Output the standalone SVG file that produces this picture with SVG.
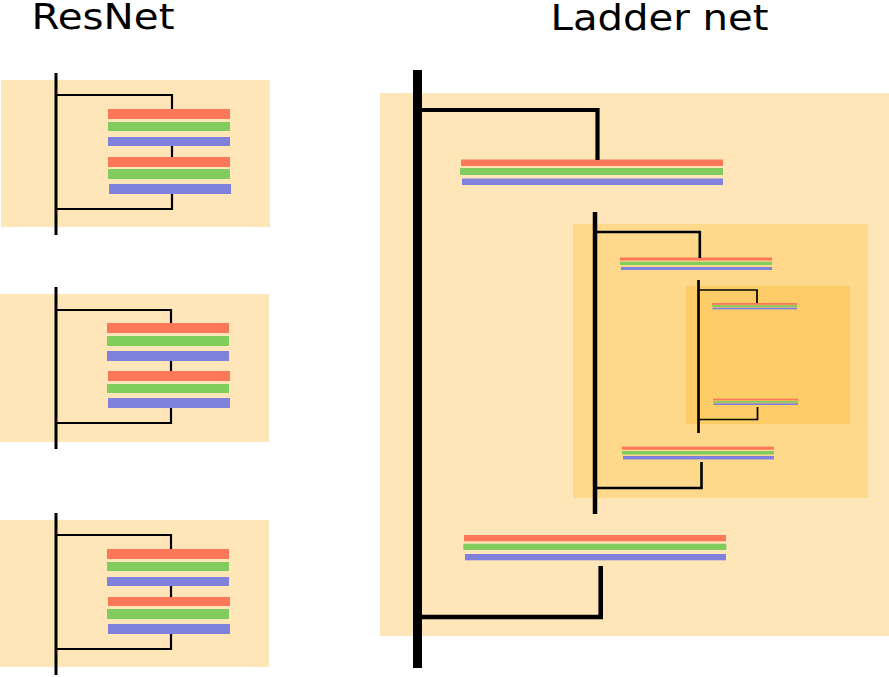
<svg xmlns="http://www.w3.org/2000/svg" width="889" height="677" viewBox="0 0 889 677">
<style>
.title{font-family:"DejaVu Sans",Verdana,sans-serif;font-size:35px;fill:#000}
.bg1{fill:#ffe6b9}
.bg2{fill:#fed88b}
.bg3{fill:#fecc66}
.r{fill:#ff7759}
.g{fill:#80cc5c}
.b{fill:#8080dd}
.ln{fill:none;stroke:#000;stroke-linecap:butt;stroke-linejoin:miter}
</style>
<rect width="889" height="677" fill="#fff"/>
<text class="title" x="31.5" y="28.5" textLength="143" lengthAdjust="spacingAndGlyphs">ResNet</text>
<text class="title" x="550.5" y="30" textLength="218" lengthAdjust="spacingAndGlyphs">Ladder net</text>

<g id="resnet1">
<rect class="bg1" x="1" y="80" width="269" height="147"/>
<rect class="r" x="108" y="109" width="122" height="10"/>
<rect class="g" x="108" y="122" width="122" height="9"/>
<rect class="b" x="108" y="137" width="122" height="9"/>
<rect class="r" x="108" y="157" width="122" height="10"/>
<rect class="g" x="108" y="169" width="122" height="10"/>
<rect class="b" x="109" y="184" width="122" height="10"/>
</g>
<g id="resnet2">
<rect class="bg1" x="0" y="294" width="269" height="148"/>
<rect class="r" x="107" y="323" width="122" height="10"/>
<rect class="g" x="107" y="336" width="122" height="10"/>
<rect class="b" x="107" y="351" width="122" height="10"/>
<rect class="r" x="108" y="371" width="122" height="10"/>
<rect class="g" x="107" y="384" width="122" height="9"/>
<rect class="b" x="108" y="398" width="122" height="10"/>
</g>
<g id="resnet3">
<rect class="bg1" x="0" y="520" width="269" height="147"/>
<rect class="r" x="107" y="549" width="122" height="10"/>
<rect class="g" x="107" y="562" width="122" height="9"/>
<rect class="b" x="107" y="577" width="122" height="9"/>
<rect class="r" x="108" y="597" width="122" height="9"/>
<rect class="g" x="107" y="609" width="122" height="10"/>
<rect class="b" x="108" y="624" width="122" height="10"/>
</g>

<g id="ladder">
<rect class="bg1" x="380" y="93" width="509" height="543"/>
<rect class="bg2" x="573" y="224" width="295" height="274"/>
<rect class="bg3" x="686" y="286" width="164" height="138"/>
<rect class="r" x="461" y="159.5" width="262" height="6.5"/>
<rect class="g" x="460" y="168" width="263" height="7"/>
<rect class="b" x="462" y="178.5" width="261" height="6.5"/>
<rect class="r" x="464" y="535" width="262" height="6.3"/>
<rect class="g" x="463.3" y="543.7" width="263" height="6.3"/>
<rect class="b" x="465" y="554" width="261" height="6.3"/>
<rect class="r" x="620" y="257.5" width="152" height="3"/>
<rect class="g" x="620" y="261.7" width="152" height="3.3"/>
<rect class="b" x="621" y="267" width="151" height="3"/>
<rect class="r" x="622" y="446.7" width="152" height="3"/>
<rect class="g" x="622" y="451" width="152" height="3.5"/>
<rect class="b" x="623" y="456" width="151" height="3.5"/>
<rect class="r" x="712" y="303" width="85" height="1.8"/>
<rect class="g" x="712" y="305.2" width="85" height="1.8"/>
<rect class="b" x="712.5" y="307.6" width="84.5" height="1.8"/>
<rect class="r" x="713" y="398.7" width="85" height="1.7"/>
<rect class="g" x="713" y="401" width="85" height="1.7"/>
<rect class="b" x="713.5" y="403.3" width="84.5" height="1.7"/>
</g>

<g id="connectors">
<path class="ln" stroke-width="2.2" d="M56,95 H172 V109 M172,146 V157 M172,194 V209 H56"/>
<path class="ln" stroke-width="3" d="M56,73 V235"/>
<path class="ln" stroke-width="2.2" d="M56,310 H171 V323 M171,361 V371 M171,408 V423 H56"/>
<path class="ln" stroke-width="3" d="M56,287 V449"/>
<path class="ln" stroke-width="2.2" d="M56,535 H171 V549 M171,586 V597 M171,634 V649 H56"/>
<path class="ln" stroke-width="3" d="M56,513 V675"/>

<path class="ln" stroke-width="4.2" d="M417,110 H597.5 V160"/>
<path class="ln" stroke-width="4.6" d="M600.7,566 V617 H417"/>
<path class="ln" stroke-width="9" d="M417.5,70 V668"/>

<path class="ln" stroke-width="2.6" d="M595,232 H699.8 V258"/>
<path class="ln" stroke-width="2.6" d="M701.5,462 V488 H595"/>
<path class="ln" stroke-width="4.5" d="M595,212 V514"/>

<path class="ln" stroke-width="1.7" d="M698,290 H757 V303"/>
<path class="ln" stroke-width="1.7" d="M757.5,407 V419.5 H698"/>
<path class="ln" stroke-width="2.7" d="M698.5,280 V433"/>
</g>
</svg>
